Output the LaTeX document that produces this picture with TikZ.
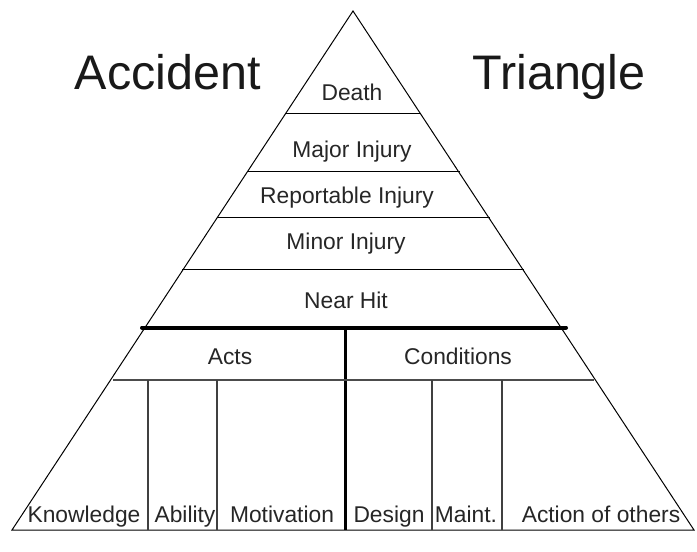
\documentclass[tikz,border=0pt]{standalone}
\usepackage{fontspec}
\setmainfont{Liberation Sans}
\begin{document}
\begin{tikzpicture}[x=1pt, y=-1pt,
    lbl/.style={anchor=base, font=\fontsize{22.8}{25}\selectfont, text=black!85, inner sep=0pt},
    ttl/.style={anchor=base, font=\fontsize{48.5}{52}\selectfont, text=black!90, inner sep=0pt}]
    \useasboundingbox (0, 0) rectangle (697, 552);

    % triangle
    \coordinate (top) at (353, 11);
    \coordinate (bl) at (12, 530);
    \coordinate (br) at (694, 530);
    \draw[black, line width=1pt, line join=miter] (bl) -- (top) -- (br) -- cycle;

    % upper bands
    \draw[black, line width=1pt] (286, 113) -- (420, 113);
    \draw[black, line width=1pt] (247, 171) -- (460, 171);
    \draw[black, line width=1pt] (217, 217) -- (490, 217);
    \draw[black, line width=1pt] (182, 269) -- (524, 269);

    % dividing line
    \draw[black, line width=4pt, line cap=round] (142, 327.5) -- (566, 327.5);
    \draw[black, line width=3pt] (345, 327.5) -- (345, 530);

    % acts and conditions
    \draw[black!70, line width=1.3pt] (113, 380) -- (594, 380);
    \foreach \xx in {148, 217, 432, 502}
        \draw[black!75, line width=1.3pt] (\xx, 380) -- (\xx, 530);

    % titles
    \node[ttl] (acc) at (168, 89) {Accident};
    \node[ttl] (tri) at (559, 89) {Triangle};

    % labels
    \node[lbl] (death) at (352, 100) {Death};
    \node[lbl] (major) at (352, 157) {Major Injury};
    \node[lbl] (report) at (347, 203) {Reportable Injury};
    \node[lbl] (minor) at (346, 249) {Minor Injury};
    \node[lbl] (near) at (346, 308) {Near Hit};
    \node[lbl] (acts) at (230, 364) {Acts};
    \node[lbl] (cond) at (458, 364) {Conditions};
    \node[lbl] (know) at (84, 522) {Knowledge};
    \node[lbl] (abil) at (185, 522) {Ability};
    \node[lbl] (moti) at (282, 522) {Motivation};
    \node[lbl] (desi) at (389, 522) {Design};
    \node[lbl] (mnt) at (466, 522) {Maint.};
    \node[lbl] (oth) at (601, 522) {Action of others};
\end{tikzpicture}
\end{document}
